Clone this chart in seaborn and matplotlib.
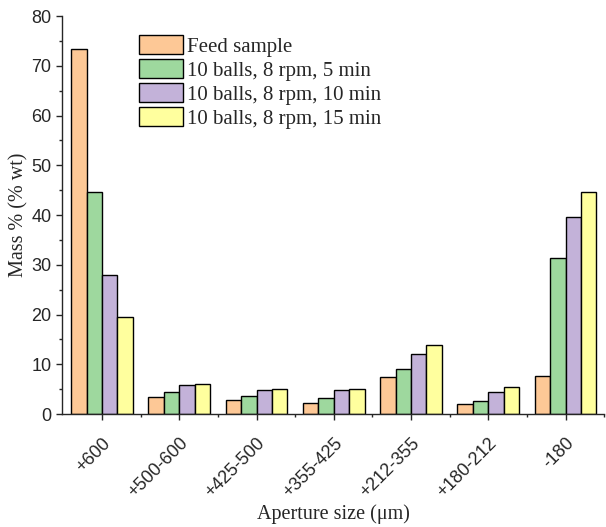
import numpy as np
import pandas as pd
import matplotlib
matplotlib.use("Agg")
import matplotlib.pyplot as plt
import seaborn as sns
from matplotlib.ticker import MultipleLocator

# aperture classes and mass fractions (% wt)
sizes = ["+600", "+500-600", "+425-500", "+355-425", "+212-355", "+180-212", "-180"]
series = ["Feed sample", "10 balls, 8 rpm, 5 min",
          "10 balls, 8 rpm, 10 min", "10 balls, 8 rpm, 15 min"]
feed = [73.4, 3.4, 2.8, 2.2, 7.5, 2.1, 7.6]
min5 = [44.6, 4.5, 3.6, 3.3, 9.1, 2.7, 31.4]
min10 = [27.9, 5.9, 4.8, 4.8, 12.0, 4.5, 39.7]
min15 = [19.6, 6.0, 5.0, 5.0, 13.9, 5.4, 44.6]
colors = ["#FDC896", "#9ED89E", "#C3B2D9", "#FFFF9E"]

rows = []
for name, vals in zip(series, [feed, min5, min10, min15]):
    for s, v in zip(sizes, vals):
        rows.append({"size": s, "series": name, "mass": v})
df = pd.DataFrame(rows)

sns.set_style("ticks")
plt.rcParams["font.family"] = ["Liberation Serif", "DejaVu Serif"]

fig = plt.figure(figsize=(6.06, 5.27), dpi=100)
ax = fig.add_axes([0.102, 0.2144, 0.895, 0.7552])

sns.barplot(data=df, x="size", y="mass", hue="series", order=sizes,
            hue_order=series, palette=colors, saturation=1, edgecolor="black",
            linewidth=1, width=0.8, ax=ax)

ax.set_ylim(0, 80)
ax.set_xlim(-0.52, 6.5)
ax.yaxis.set_major_locator(MultipleLocator(10))
ax.yaxis.set_minor_locator(MultipleLocator(5))
ax.set_xticks(np.arange(len(sizes)))
ax.set_xticks(np.arange(len(sizes)) + 0.5, minor=True)
ax.tick_params(axis="both", which="major", direction="out", length=4, width=1)
ax.tick_params(axis="both", which="minor", direction="out", length=2.5, width=1)
ax.tick_params(axis="x", which="major", pad=11)
for lab in ax.get_yticklabels():
    lab.set_family("Liberation Sans")
    lab.set_fontsize(13)
ax.set_xticklabels(sizes, rotation=45, ha="right", rotation_mode="anchor",
                   family="Liberation Sans", fontsize=13)

sns.despine(ax=ax)
ax.spines["left"].set_linewidth(1)
ax.spines["bottom"].set_linewidth(1)

ax.set_xlabel("Aperture size (μm)", fontsize=14.5, labelpad=2)
ax.set_ylabel("Mass % (% wt)", fontsize=14.5, labelpad=2)

ax.legend(loc="upper left", bbox_to_anchor=(0.127, 0.972), frameon=False,
          fontsize=15, handlelength=2.1, handleheight=1.0,
          labelspacing=0.12, handletextpad=0.22, borderaxespad=0)

fig.savefig("out.png", dpi=100)
